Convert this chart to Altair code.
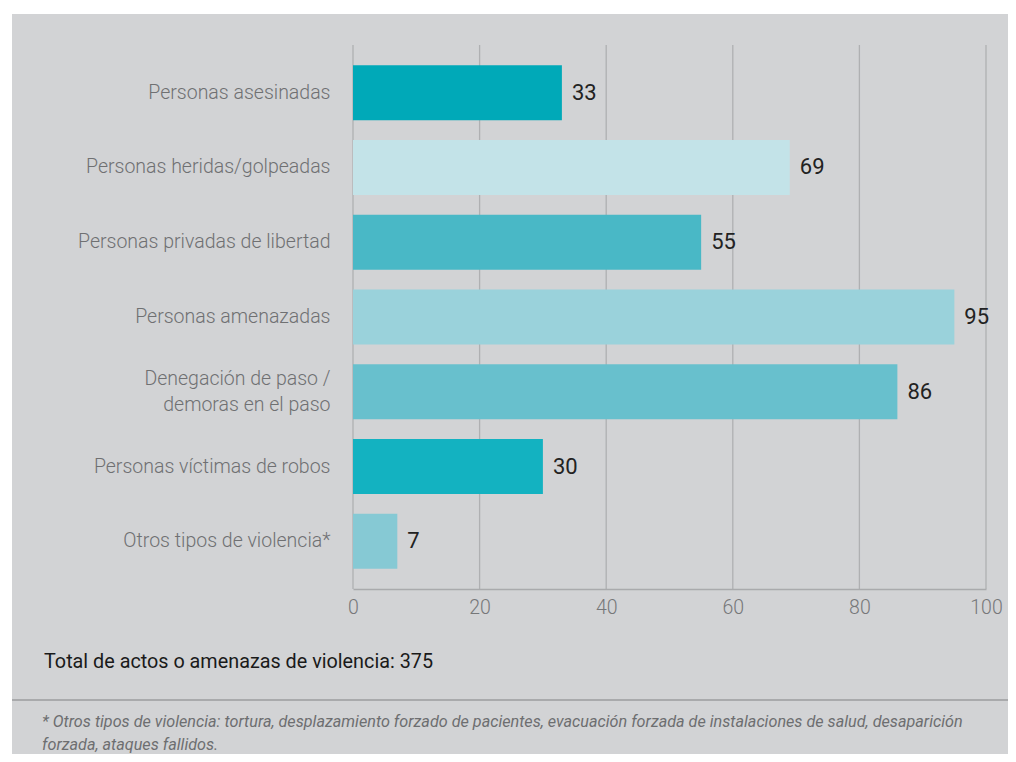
import altair as alt
import pandas as pd

categories = [
    "Personas asesinadas",
    "Personas heridas/golpeadas",
    "Personas privadas de libertad",
    "Personas amenazadas",
    "Denegación de paso / demoras en el paso",
    "Personas víctimas de robos",
    "Otros tipos de violencia*",
]
values = [33, 69, 55, 95, 86, 30, 7]
colors = ["#00a9b8", "#c3e3e8", "#49b8c6", "#9ad2db", "#68c0cd", "#13b2c1", "#86c9d4"]
x_ticks = [0, 20, 40, 60, 80, 100]

total_text = "Total de actos o amenazas de violencia: 375"
note_lines = [
    "* Otros tipos de violencia: tortura, desplazamiento forzado de pacientes, evacuación forzada de instalaciones de salud, desaparición",
    "forzada, ataques fallidos.",
]

FONT = "Roboto"
TWO_LINE = "Denegación de paso / demoras en el paso"

df = pd.DataFrame({"cat": categories, "val": values, "color": colors})
ticks_df = pd.DataFrame({"val": x_ticks})

W, H = 633, 544

panel = alt.Chart(alt.Data(values=[{}])).mark_rect(color="#d2d3d5").encode(
    x=alt.value(-341), x2=alt.value(700), y=alt.value(-31), y2=alt.value(760)
)

x_scale = alt.Scale(domain=[0, 100], nice=False)

grid = alt.Chart(ticks_df).mark_rule(color="#afb0b2", strokeWidth=1.3).encode(
    x=alt.X("val:Q", scale=x_scale, title=None)
)

y_enc = alt.Y(
    "cat:N",
    sort=categories,
    title=None,
    scale=alt.Scale(paddingInner=0.265, paddingOuter=0.27),
    axis=alt.Axis(
        ticks=False,
        domain=False,
        grid=False,
        zindex=1,
        labelPadding=23,
        labelFont=FONT,
        labelFontSize=19.5,
        labelFontWeight=300,
        labelColor="#6f7072",
        labelLimit=400,
        labelLineHeight=26,
        labelOffset={"condition": {"test": f"datum.value == '{TWO_LINE}'", "value": -13}, "value": 0},
        labelExpr=f"datum.label == '{TWO_LINE}' ? ['Denegación de paso /', 'demoras en el paso'] : datum.label",
    ),
)

x_enc = alt.X(
    "val:Q",
    title=None,
    scale=x_scale,
    axis=alt.Axis(
        values=x_ticks,
        ticks=False,
        domain=True,
        domainColor="#a9aaac",
        domainWidth=1.5,
        grid=False,
        zindex=1,
        labelPadding=9,
        labelFont=FONT,
        labelFontSize=19.5,
        labelFontWeight=300,
        labelColor="#767779",
        labelFlush=False,
    ),
)

bars = alt.Chart(df).mark_bar().encode(
    x=x_enc,
    y=y_enc,
    color=alt.Color("color:N", scale=None, legend=None),
)

labels = alt.Chart(df).mark_text(
    align="left", baseline="middle", dx=10, font=FONT, fontSize=22, color="#222222"
).encode(
    x="val:Q",
    y=alt.Y("cat:N", sort=categories),
    text="val:Q",
)

total = alt.Chart(alt.Data(values=[{"t": total_text}])).mark_text(
    align="left", baseline="middle", font=FONT, fontSize=19.8, color="#1a1a1a"
).encode(x=alt.value(-309), y=alt.value(617), text="t:N")

sep = alt.Chart(alt.Data(values=[{}])).mark_rule(color="#a9aaac", strokeWidth=2).encode(
    x=alt.value(-341), x2=alt.value(700), y=alt.value(655)
)

notes_df = pd.DataFrame({"t": note_lines, "yy": [677, 700]})
notes = alt.Chart(notes_df).mark_text(
    align="left", baseline="middle", font=FONT, fontSize=16.2, fontStyle="italic", color="#6d6e70"
).encode(x=alt.value(-311), y=alt.Y("yy:Q", scale=None), text="t:N")

chart = (
    alt.layer(panel, grid, bars, labels, total, sep, notes)
    .properties(
        width=W,
        height=H,
        autosize=alt.AutoSizeParams(type="none"),
        padding={"left": 345, "top": 37, "right": 22, "bottom": 165},
        background="white",
    )
    .configure_view(stroke=None)
)

chart.save("out.html", embed_options={"renderer": "svg", "actions": False})
